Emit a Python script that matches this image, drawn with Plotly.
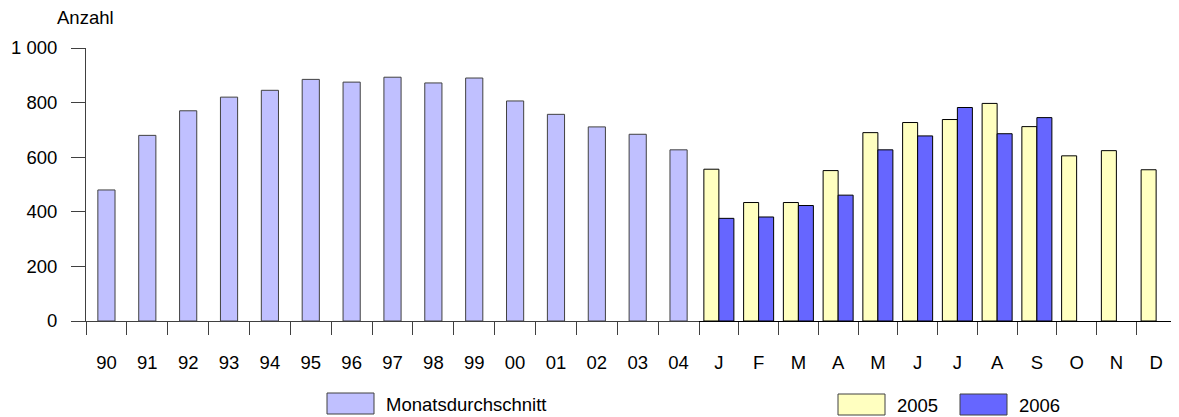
import plotly.graph_objects as go

# ---- data ----
years = ["90", "91", "92", "93", "94", "95", "96", "97", "98", "99", "00", "01", "02", "03", "04"]
monthly_avg = [480, 680, 770, 820, 845, 885, 875, 893, 872, 890, 806, 757, 711, 684, 627]

months = ["Jan", "Feb", "Mar", "Apr", "May", "Jun", "Jul", "Aug", "Sep", "Oct", "Nov", "Dec"]
month_labels = ["J", "F", "M", "A", "M", "J", "J", "A", "S", "O", "N", "D"]
values_2005 = [556, 434, 434, 551, 690, 727, 738, 797, 712, 605, 624, 554]
values_2006 = [376, 381, 423, 461, 627, 678, 782, 686, 745, None, None, None]

y_ticks = [0, 200, 400, 600, 800, 1000]

# ---- styling ----
FONT = "Liberation Sans, Arial, sans-serif"
FS = 18.5
C_AVG = "#C0C0FF"
C_2005 = "#FFFFC0"
C_2006 = "#6666FF"
AXIS_C = "#404040"

# page body has an 8px margin, so the figure is sized to fit inside the window
OFF = 8
W, H = 1179 - OFF, 417 - OFF
L, R, T, B = 86 - OFF, W - (1176 - OFF), 48 - OFF, H - (321 - OFF)
PW, PH = W - L - R, H - T - B
split = ((699 - OFF) - L) / PW

fig = go.Figure()
fig.add_trace(go.Bar(x=years, y=monthly_avg, name="Monatsdurchschnitt",
                     marker=dict(color=C_AVG, line=dict(color=AXIS_C, width=1)),
                     width=0.42, xaxis="x", yaxis="y", showlegend=False))
fig.add_trace(go.Bar(x=months, y=values_2005, name="2005",
                     marker=dict(color=C_2005, line=dict(color="#000000", width=1)),
                     xaxis="x2", yaxis="y", showlegend=False))
fig.add_trace(go.Bar(x=months, y=values_2006, name="2006",
                     marker=dict(color=C_2006, line=dict(color="#000000", width=1)),
                     xaxis="x2", yaxis="y", showlegend=False))

xcommon = dict(type="category", showgrid=False, zeroline=False, showline=True,
               linewidth=1, ticks="outside", ticklen=13, tickwidth=1,
               tickson="boundaries", ticklabelstandoff=25,
               tickfont=dict(family=FONT, size=FS, color="#000"), fixedrange=True)

fig.update_layout(
    width=W, height=H,
    margin=dict(l=L, r=R, t=T, b=B, autoexpand=False),
    paper_bgcolor="white", plot_bgcolor="white",
    barmode="group", bargap=0.245, bargroupgap=0,
    separators=", ",
    font=dict(family=FONT, size=FS, color="#000"),
    xaxis=dict(domain=[0, split], range=[-0.5, len(years) - 0.5],
               linecolor=AXIS_C, tickcolor=AXIS_C, anchor="y", **xcommon),
    xaxis2=dict(domain=[split, 1], range=[-0.5, len(months) - 0.5],
                tickmode="array", tickvals=months, ticktext=month_labels,
                linecolor="#000", tickcolor=AXIS_C, anchor="y", **xcommon),
    yaxis=dict(range=[0, 1000], tickvals=y_ticks, tickformat=",d",
               showgrid=False, zeroline=False, showline=True, linecolor=AXIS_C,
               linewidth=1, ticks="outside", ticklen=14, tickcolor=AXIS_C,
               ticklabelstandoff=10,
               tickfont=dict(family=FONT, size=FS, color="#000"), fixedrange=True),
    showlegend=False,
)


def px_x(p):
    return (p - OFF - L) / PW


def px_y(p):
    return (H - B - (p - OFF)) / PH


# axis title
fig.add_annotation(text="Anzahl", xref="paper", yref="paper",
                   x=px_x(55), y=px_y(18),
                   xanchor="left", yanchor="middle", showarrow=False,
                   font=dict(family=FONT, size=FS, color="#000"))

# legend swatches + labels (reference pixel positions)
legend_items = [("Monatsdurchschnitt", C_AVG, AXIS_C, 327, 393),
                ("2005", C_2005, AXIS_C, 838, 394),
                ("2006", C_2006, AXIS_C, 960, 394)]
for label, fill, edge, x0, y0 in legend_items:
    fig.add_shape(type="rect", xref="paper", yref="paper",
                  x0=px_x(x0), x1=px_x(x0 + 47), y0=px_y(y0), y1=px_y(y0 + 21),
                  fillcolor=fill, line=dict(color=edge, width=1))
    fig.add_annotation(text=label, xref="paper", yref="paper",
                       x=px_x(x0 + 57), y=px_y(y0 + 11), xanchor="left", yanchor="middle",
                       showarrow=False, font=dict(family=FONT, size=FS, color="#000"))

fig.write_html("out.html")
